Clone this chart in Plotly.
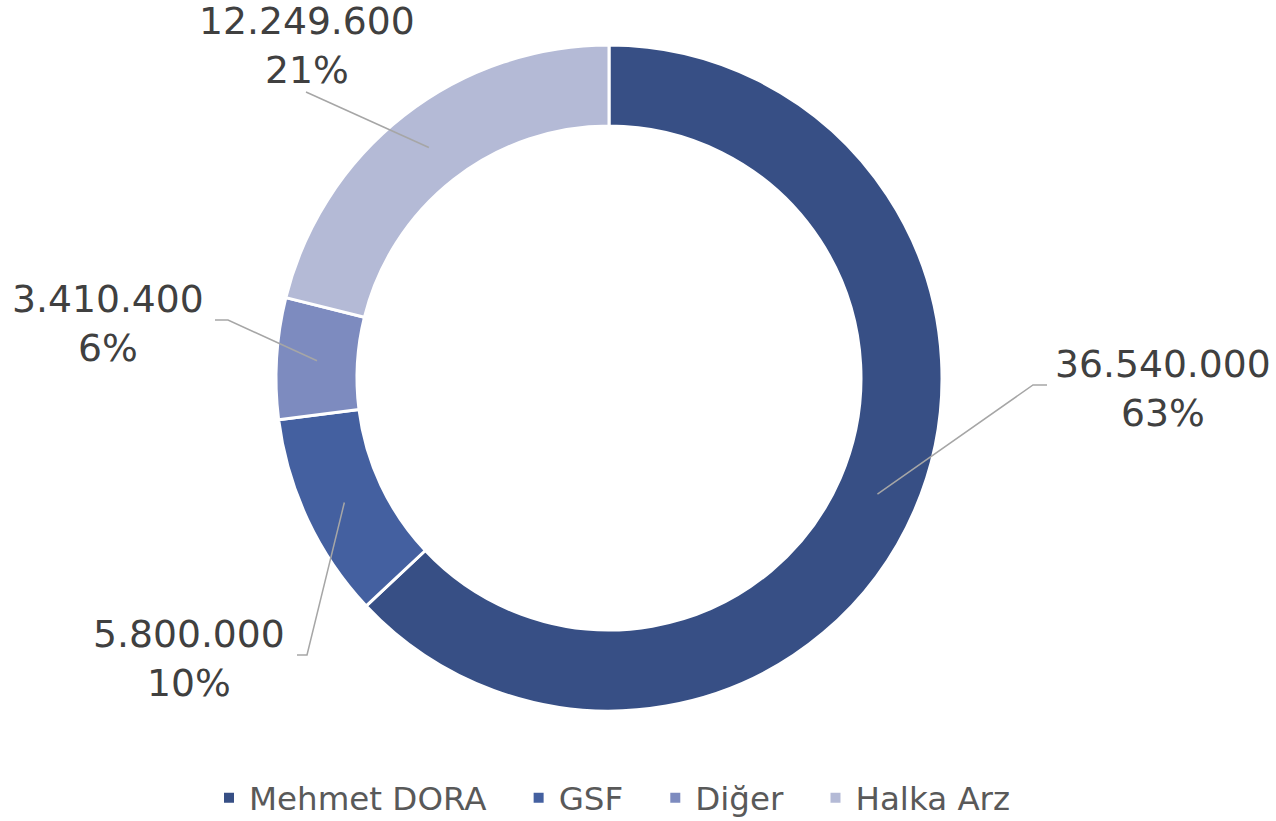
import math
import plotly.graph_objects as go

# ---- data ----
labels = ["Mehmet DORA", "GSF", "Diğer", "Halka Arz"]
values = [36540000, 5800000, 3410400, 12249600]
colors = ["#374F85", "#4460A0", "#7D8BBF", "#B4BAD6"]

# ---- layout config (pixels) ----
W, H = 1276, 821
CX, CY, R_OUT, R_IN = 609, 378, 333, 252
# label anchor (center), leader elbow and end, per slice
label_pos = [(1163, 388), (189, 658), (108, 323), (307, 46)]
leader_elbow = [(1033, 385), (307, 655), (228, 320), (306, 92)]
leader_end = [(1047, 385), (297, 655), (215, 320), (306, 92)]
LEGEND_LEFT, LEGEND_Y = 209, 798

def px(x):
    return x / W

def py(y):
    return 1 - y / H

# legend entries spaced like the reference (extra gap after all but last)
legend_labels = [l + ("\u00a0\u00a0\u2009" if i < len(labels) - 1 else "") for i, l in enumerate(labels)]

total = sum(values)
fig = go.Figure()
fig.add_trace(go.Pie(
    labels=legend_labels, values=values, sort=False, direction="clockwise", rotation=0,
    hole=R_IN / R_OUT,
    marker=dict(colors=colors, line=dict(color="white", width=3)),
    textinfo="none", hoverinfo="label+value+percent",
    domain=dict(x=[px(CX - R_OUT), px(CX + R_OUT)], y=[py(CY + R_OUT), py(CY - R_OUT)]),
))

def fmt(v):
    return f"{v:,}".replace(",", ".")

cum = 0
shapes = []
annotations = []
r_mid = (R_IN + R_OUT) / 2
for i, v in enumerate(values):
    mid = (cum + v / 2) / total * 2 * math.pi
    cum += v
    sx = CX + r_mid * math.sin(mid)
    sy = CY - r_mid * math.cos(mid)
    ex, ey = leader_elbow[i]
    fx, fy = leader_end[i]
    shapes.append(dict(
        type="path", xref="paper", yref="paper",
        path=f"M {px(sx)} {py(sy)} L {px(ex)} {py(ey)} L {px(fx)} {py(fy)}",
        line=dict(color="#A6A6A6", width=1.5),
    ))
    pct = round(v / total * 100)
    lx, ly = label_pos[i]
    annotations.append(dict(
        x=px(lx), y=py(ly), xref="paper", yref="paper", showarrow=False,
        text=f"{fmt(v)}<br>{pct}%", xanchor="center", yanchor="middle",
        font=dict(family="DejaVu Sans, Verdana, sans-serif", size=37.7, color="#404040"),
    ))

fig.update_layout(
    width=W, height=H, margin=dict(l=0, r=0, t=0, b=0, autoexpand=False),
    paper_bgcolor="white", plot_bgcolor="white",
    shapes=shapes, annotations=annotations,
    showlegend=True,
    legend=dict(orientation="h", x=px(LEGEND_LEFT), xanchor="left", y=py(LEGEND_Y), yanchor="middle",
                font=dict(family="DejaVu Sans, Verdana, sans-serif", size=32.5, color="#595959"),
                itemsizing="constant"),
)
fig.write_html("out.html", config={"displayModeBar": False},
               post_script="document.body.style.margin='0';")
